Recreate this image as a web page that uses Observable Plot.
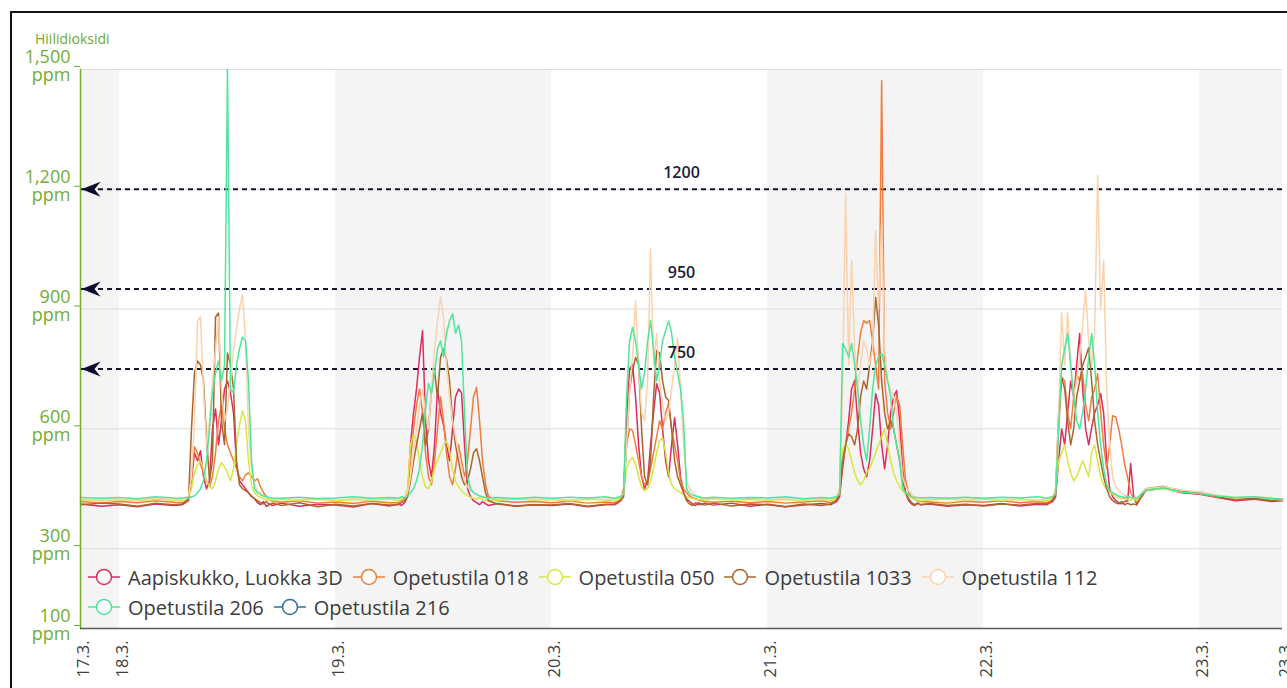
<!DOCTYPE html>
<html>
<head>
<meta charset="utf-8">
<script src="https://cdn.jsdelivr.net/npm/d3@7"></script>
<script src="https://cdn.jsdelivr.net/npm/@observablehq/plot@0.6"></script>
<style>
  body { margin: 0; background: #fff; font-family: "Open Sans", sans-serif; }
  #wrap { position: relative; width: 1287px; height: 688px; overflow: hidden; background: #fff; }
  #wrap > svg { position: absolute; left: 0; top: 0; }
  #frame { position: absolute; left: 10px; top: 11px; width: 1320px; height: 720px; border: 2px solid #111; box-sizing: border-box; pointer-events: none; }
  #title { position: absolute; left: 35px; top: 29px; font-size: 14px; color: #6fab2f; }
  #legend { position: absolute; left: 88px; top: 562px; width: 1120px; display: flex; flex-wrap: wrap; column-gap: 10px; }
  .item { display: flex; align-items: center; height: 30px; font-size: 20px; color: #3c3c3c; white-space: nowrap; }
  .item svg { display: block; margin-right: 8px; }
</style>
</head>
<body>
<div id="wrap">
  <div id="title">Hiilidioksidi</div>
  <div id="legend"></div>
  <div id="frame"></div>
</div>
<script>
// ---- time grid (hours since 18.3. 00:00) ----
const preHours = [-4.33, -2];
const dayHours = [0, 2, 4, 6,
  7, 7.33, 7.67, 8, 8.33, 8.67, 9, 9.33, 9.67, 10, 10.33, 10.67, 11, 11.33, 11.67, 12,
  12.33, 12.67, 13, 13.33, 13.67, 14, 14.33, 14.67, 15, 15.33, 15.67, 16, 16.33, 16.67, 17,
  18, 20, 22];
const dayStarts = [0, 24, 48, 72, 96];
const postHours = [120, 122, 124, 126, 128, 129.2];

// ---- axes ----
const xTicks = [-4.33, 0, 24, 48, 72, 96, 120, 129.2];
const xTickLabels = ["17.3.", "18.3.", "19.3.", "20.3.", "21.3.", "22.3.", "23.3.", "23.3."];
const bandStart = [-4.33, 24, 72, 120];
const bandEnd = [0, 48, 96, 129.2];
const yTicks = [100, 300, 600, 900, 1200, 1500];
const thresholds = [1200, 950, 750];

// ---- series ----
const seriesNames = ["Aapiskukko, Luokka 3D", "Opetustila 018", "Opetustila 050", "Opetustila 1033", "Opetustila 112", "Opetustila 206", "Opetustila 216"];
const seriesColors = ["#dc2d5c", "#f27c3c", "#d8e640", "#a8662c", "#fcd2ac", "#4ee69b", "#2e6f9e"];

const aapiskukko = [
  412, 406,
  410, 405, 412, 408,
  410, 415, 420, 470, 540, 520, 545, 480, 450, 470, 600, 650, 560, 620, 700, 720, 690, 640, 510, 470, 460, 450, 440, 430, 425, 415, 410, 418, 405, 412, 408,
  414, 406, 411,
  409, 404, 413, 407,
  412, 408, 415, 430, 560, 640, 700, 780, 846, 620, 520, 480, 560, 700, 640, 610, 560, 520, 600, 680, 700, 690, 560, 450, 430, 420, 415, 410, 418, 412, 408,
  413, 407, 410,
  408, 412, 405, 410,
  410, 414, 420, 440, 620, 750, 762, 680, 560, 480, 450, 470, 560, 640, 713, 690, 600, 520, 480, 560, 628, 560, 480, 440, 425, 418, 412, 408, 415, 410, 414,
  409, 414, 406,
  411, 405, 409, 413,
  410, 414, 418, 430, 500, 560, 620, 700, 721, 620, 540, 500, 480, 520, 600, 688, 660, 560, 500, 560, 640, 680, 696, 620, 500, 440, 420, 412, 408, 414, 410,
  412, 406, 410,
  408, 413, 407, 411,
  410, 414, 418, 430, 520, 600, 560, 640, 720, 680, 760, 839, 700, 600, 560, 603, 640, 660, 688, 640, 520, 450, 430, 420, 415, 412, 418, 420, 513, 430, 412,
  445, 452, 440,
  436, 428, 420, 424, 418, 420
];
const opetustila018 = [
  418, 414,
  418, 415, 420, 416,
  415, 418, 425, 480, 555, 540, 510, 490, 470, 455, 480, 540, 620, 660, 600, 560, 540, 520, 500, 480, 470, 485, 490, 480, 470, 475, 455, 440, 430, 422, 418,
  416, 420, 414,
  417, 413, 419, 415,
  415, 420, 425, 440, 520, 600, 660, 700, 640, 540, 480, 460, 520, 600, 680, 620, 540, 480, 460, 500, 560, 520, 480, 520, 600, 680, 704, 620, 520, 460, 430,
  420, 416, 418,
  415, 419, 414, 417,
  415, 418, 424, 450, 560, 600, 596, 560, 520, 480, 460, 470, 500, 540, 580, 620, 600, 640, 664, 600, 560, 520, 470, 450, 440, 432, 428, 425, 422, 420, 418,
  416, 419, 415,
  418, 414, 417, 420,
  415, 418, 424, 440, 520, 560, 600, 640, 700, 780, 840, 871, 865, 871, 820, 760, 700, 1472, 720, 640, 600, 640, 680, 660, 560, 470, 440, 428, 424, 420, 418,
  417, 414, 419,
  416, 420, 415, 418,
  415, 418, 424, 450, 600, 729, 720, 640, 600, 680, 738, 720, 738, 660, 620, 680, 700, 738, 640, 560, 500, 560, 633, 630, 600, 560, 510, 478, 440, 425, 420,
  448, 455, 445,
  440, 432, 426, 428, 422, 424
];
const opetustila050 = [
  422, 420,
  422, 420, 424, 421,
  420, 422, 428, 450, 490, 510, 520, 500, 470, 455, 450, 470, 500, 515, 505, 490, 470, 500, 560, 610, 645, 620, 520, 460, 440, 432, 428, 425, 422, 424, 420,
  423, 421, 424,
  420, 423, 421, 425,
  420, 424, 428, 450, 560, 585, 570, 520, 480, 455, 450, 470, 500, 520, 540, 560, 570, 545, 500, 470, 455, 445, 438, 432, 428, 426, 425, 428, 424, 422, 420,
  422, 425, 421,
  423, 420, 424, 422,
  420, 423, 427, 440, 500, 520, 528, 513, 480, 455, 445, 450, 470, 500, 540, 570, 578, 540, 490, 460, 450, 445, 440, 435, 430, 428, 426, 424, 422, 425, 421,
  424, 421, 423,
  421, 424, 420, 423,
  420, 424, 428, 450, 546, 563, 550, 520, 490, 470, 460, 470, 490, 500, 520, 540, 560, 580, 600, 560, 520, 490, 470, 455, 445, 438, 432, 428, 425, 422, 420,
  422, 425, 421,
  424, 421, 423, 420,
  420, 424, 428, 450, 520, 540, 560, 520, 490, 470, 480, 500, 520, 500, 480, 540, 560, 520, 480, 460, 450, 442, 436, 432, 428, 426, 425, 423, 422, 424, 421,
  446, 450, 442,
  438, 430, 426, 426, 424, 422
];
const opetustila1033 = [
  410, 414,
  412, 406, 414, 410,
  412, 418, 425, 600, 740, 770, 760, 720, 580, 470, 520, 880, 890, 620, 560, 790, 760, 700, 520, 460, 450, 445, 440, 432, 425, 420, 415, 412, 418, 410, 414,
  408, 415, 405,
  411, 407, 413, 409,
  410, 415, 420, 430, 470, 520, 560, 600, 640, 560, 600, 700, 746, 680, 780, 800, 775, 720, 620, 560, 520, 480, 460, 470, 500, 540, 550, 520, 480, 440, 420,
  412, 406, 410,
  409, 413, 406, 411,
  412, 416, 420, 430, 560, 700, 746, 779, 760, 600, 480, 460, 520, 680, 796, 790, 720, 680, 671, 600, 520, 480, 460, 440, 420, 412, 408, 415, 410, 412, 409,
  414, 407, 412,
  410, 405, 412, 408,
  412, 415, 420, 440, 520, 560, 588, 580, 560, 600, 680, 720, 700, 760, 820, 929, 860, 720, 640, 600, 620, 600, 560, 520, 470, 440, 425, 415, 410, 414, 410,
  413, 408, 411,
  407, 412, 409, 414,
  412, 415, 420, 440, 640, 729, 700, 620, 560, 600, 680, 720, 760, 780, 804, 720, 620, 560, 520, 480, 450, 430, 420, 415, 412, 418, 410, 414, 410, 412, 409,
  450, 456, 444,
  440, 430, 422, 426, 420, 424
];
const opetustila112 = [
  424, 422,
  424, 422, 426, 423,
  425, 428, 432, 480, 620, 870, 880, 700, 560, 620, 720, 800, 880, 700, 620, 650, 720, 800, 850, 900, 935, 820, 600, 500, 460, 445, 438, 432, 428, 426, 424,
  425, 423, 426,
  422, 425, 423, 426,
  425, 428, 430, 440, 480, 540, 600, 660, 700, 640, 600, 700, 800, 870, 930, 880, 760, 680, 620, 580, 540, 500, 470, 455, 445, 440, 436, 432, 430, 428, 426,
  424, 427, 423,
  425, 422, 426, 424,
  425, 428, 432, 440, 560, 700, 780, 921, 760, 640, 620, 720, 1050, 760, 838, 720, 660, 620, 640, 700, 760, 829, 700, 560, 470, 450, 440, 434, 430, 428, 426,
  425, 423, 427,
  423, 426, 422, 425,
  425, 428, 432, 450, 700, 1189, 760, 1022, 800, 700, 760, 820, 800, 760, 800, 1097, 900, 1120, 800, 720, 700, 680, 640, 560, 480, 455, 445, 436, 430, 428, 426,
  424, 427, 423,
  426, 423, 425, 422,
  425, 428, 432, 450, 640, 892, 760, 890, 760, 680, 720, 780, 860, 947, 820, 760, 840, 1235, 900, 1022, 700, 560, 480, 455, 445, 438, 434, 430, 428, 427, 426,
  450, 455, 446,
  442, 434, 428, 430, 426, 425
];
const opetustila206 = [
  428, 426,
  428, 425, 430, 427,
  426, 428, 425, 430, 432, 440, 450, 470, 520, 600, 690, 740, 770, 720, 760, 1500, 700, 690, 760, 800, 830, 820, 720, 520, 450, 440, 435, 432, 430, 428, 427,
  426, 429, 425,
  427, 430, 426, 428,
  426, 430, 427, 432, 440, 450, 470, 500, 560, 650, 714, 690, 740, 800, 820, 780, 840, 870, 888, 840, 860, 820, 640, 480, 450, 440, 436, 432, 430, 428, 427,
  428, 425, 429,
  426, 429, 427, 430,
  426, 428, 430, 436, 680, 820, 854, 820, 760, 700, 740, 820, 871, 800, 720, 760, 820, 846, 870, 840, 780, 740, 700, 620, 450, 438, 434, 432, 430, 428, 427,
  429, 426, 428,
  427, 430, 425, 428,
  426, 428, 430, 436, 814, 800, 780, 814, 760, 700, 620, 560, 520, 600, 700, 760, 780, 789, 760, 720, 680, 600, 560, 520, 450, 440, 434, 430, 428, 428, 427,
  428, 426, 429,
  426, 429, 427, 430,
  426, 428, 430, 436, 600, 760, 800, 839, 760, 680, 620, 600, 640, 700, 780, 839, 760, 640, 560, 500, 460, 445, 440, 436, 432, 430, 428, 430, 428, 427, 426,
  446, 452, 442,
  438, 432, 428, 430, 426, 424
];
const opetustila216 = []; // no readings in this period

// ---- build table ----
const hours = [...preHours, ...dayStarts.flatMap(s => dayHours.map(h => s + h)), ...postHours];
const seriesValues = [aapiskukko, opetustila018, opetustila050, opetustila1033, opetustila112, opetustila206, opetustila216];
const rows = seriesNames.flatMap((name, si) => seriesValues[si].map((v, i) => ({name, t: hours[i], v})));
const bands = bandStart.map((s, i) => ({s, e: bandEnd[i]}));
const xLabel = new Map(xTicks.map((t, i) => [t, xTickLabels[i]]));
const green = "#72ad32";

const arrowHead = {
  draw(ctx) {
    ctx.moveTo(1, 0);
    ctx.lineTo(20, -7.5);
    ctx.lineTo(14, 0);
    ctx.lineTo(20, 7.5);
    ctx.closePath();
  }
};

const chart = Plot.plot({
  width: 1287,
  height: 688,
  marginLeft: 80,
  marginRight: 5,
  marginTop: 69,
  marginBottom: 60,
  style: {fontFamily: "Open Sans", background: "transparent"},
  x: {domain: [xTicks[0], xTicks[xTicks.length - 1]]},
  y: {domain: [100, 1500]},
  color: {domain: seriesNames, range: seriesColors},
  marks: [
    Plot.rect(bands, {x1: "s", x2: "e", fill: "#f4f4f4"}),
    Plot.gridY(yTicks, {stroke: "#dcdcdc", strokeOpacity: 1}),
    Plot.ruleY(thresholds, {stroke: "#15152f", strokeWidth: 2, strokeDasharray: "5,4"}),
    Plot.line(rows, {x: "t", y: "v", z: "name", stroke: "name", strokeWidth: 1.5}),
    Plot.dot(thresholds, {y: d => d, frameAnchor: "left", symbol: arrowHead, r: 10, fill: "#0c0c2e", stroke: "none"}),
    Plot.text(thresholds, {y: d => d, frameAnchor: "middle", text: d => String(d), dy: -16, fontSize: 16, fontWeight: 600, fill: "#1c1c40"}),
    Plot.frame({anchor: "left", stroke: green, strokeWidth: 1.5}),
    Plot.ruleY([100], {stroke: "#5a5a5a", strokeWidth: 1.5}),
    Plot.axisY(yTicks, {
      tickFormat: d => d3.format(",")(d) + "\nppm",
      tickSize: 6, tickPadding: 4, color: green, fontSize: 18, dy: -3, label: null
    }),
    Plot.axisX(xTicks, {
      tickFormat: d => xLabel.get(d),
      tickRotate: -90, tickSize: 0, tickPadding: 12, fontSize: 16.5, color: "#404040", dx: 3, label: null
    })
  ]
});
const wrap = document.getElementById("wrap");
wrap.insertBefore(chart, wrap.firstChild);

// ---- legend ----
const legend = document.getElementById("legend");
seriesNames.forEach((name, i) => {
  const item = document.createElement("div");
  item.className = "item";
  const c = seriesColors[i];
  item.innerHTML = `<svg width="32" height="18" viewBox="0 0 32 18"><line x1="0" y1="9" x2="32" y2="9" stroke="${c}" stroke-width="1.5"/><circle cx="16" cy="9" r="7.5" fill="#fff" stroke="${c}" stroke-width="1.5"/></svg>`;
  const span = document.createElement("span");
  span.textContent = name;
  item.appendChild(span);
  legend.appendChild(item);
});
</script>
</body>
</html>
